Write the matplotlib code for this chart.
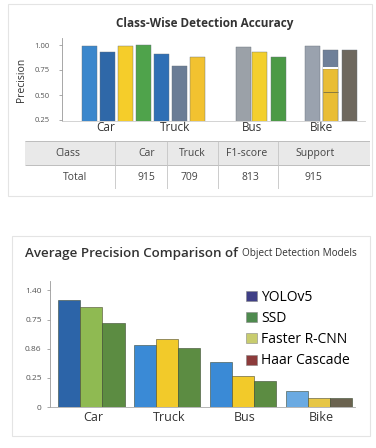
import numpy as np
import matplotlib
matplotlib.use("Agg")
import matplotlib.pyplot as plt
from matplotlib.patches import Rectangle, Patch

plt.rcParams['font.family'] = ['Open Sans', 'DejaVu Sans']

# ---- top chart data (class-wise precision) ----
top_groups = ['Car', 'Truck', 'Bus', 'Bike']
car_prec = [0.99, 0.93, 0.99, 1.00]
truck_prec = [0.91, 0.79, 0.88]
bus_prec = [0.98, 0.93, 0.88]
bike_prec = [0.99, 0.95, 0.95]
bike_inner = 0.76      # yellow part inside the middle bike bar
bike_inner_line = 0.53
top_yticks = [0.25, 0.50, 0.75, 1.00]
top_yticklabels = ['0.25', '0.50', '0.75', '1.00']

# ---- table ----
table_header = ['Class', 'Car', 'Truck', 'F1-score', 'Support']
table_row = ['Total', '915', '709', '813', '915']

# ---- bottom chart data (average precision) ----
models = ['YOLOv5', 'SSD', 'Faster R-CNN', 'Haar Cascade']
classes = ['Car', 'Truck', 'Bus', 'Bike']
ap_first = [0.915, 0.53, 0.39, 0.135]
ap_second = [0.855, 0.58, 0.265, 0.08]
ap_third = [0.72, 0.505, 0.22, 0.08]
bottom_yticks = [0, 0.25, 0.5, 0.75, 1.0]
bottom_yticklabels = ['0', '0.25', '0.86', '0.75', '1.40']

fig = plt.figure(figsize=(3.76, 4.48), dpi=100)
fig.patch.set_facecolor('white')

# light panel frames
fig.patches.append(Rectangle((8 / 376, 1 - 196 / 448), 364 / 376, 192 / 448,
                             transform=fig.transFigure, fill=False,
                             edgecolor='#e4e4e4', lw=0.8))
fig.patches.append(Rectangle((12 / 376, 1 - 436 / 448), 358 / 376, 200 / 448,
                             transform=fig.transFigure, fill=False,
                             edgecolor='#e4e4e4', lw=0.8))

# ================= top chart =================
ax1 = fig.add_axes([62 / 376, 1 - 121 / 448, 303 / 376, 83 / 448])
slots = {
    'Car': [0, 1, 2, 3],
    'Truck': [4, 5, 6],
    'Bus': [8.55, 9.45, 10.5],
    'Bike': [12.4, 13.4, 14.45],
}
top_vals = {'Car': car_prec, 'Truck': truck_prec, 'Bus': bus_prec, 'Bike': bike_prec}
top_cols = {
    'Car': ['#3b87cc', '#2f68a8', '#f5cd2a', '#4fa34b'],
    'Truck': ['#2f6fb5', '#6b7d96', '#f2c230'],
    'Bus': ['#9ba1a8', '#f3cf2c', '#4b9a46'],
    'Bike': ['#9aa2ae', '#6f8099', '#6e685e'],
}
w1 = 0.85
for g in top_groups:
    ax1.bar(slots[g], top_vals[g], width=w1, color=top_cols[g],
            edgecolor='#66707a', linewidth=0.3)
# yellow inner part of the middle bike bar
bx = slots['Bike'][1]
ax1.bar(bx, bike_inner, width=w1, color='#e9bd35', edgecolor='#66707a', linewidth=0.3)
ax1.bar(bx, 0.018, bottom=bike_inner, width=w1, color='white', linewidth=0)
ax1.hlines(bike_inner_line, bx - w1 / 2, bx + w1 / 2, color='#8a7a40', lw=0.7)

ax1.set_xlim(-1.53, 15.3)
ax1.set_ylim(0.24, 1.07)
ax1.set_yticks(top_yticks)
ax1.set_yticklabels(top_yticklabels, fontsize=5.5, color='#555555')
ax1.set_xticks([0.9, 4.75, 9.0, 12.9])
ax1.set_xticklabels(top_groups, fontsize=8.5, color='#333333')
ax1.tick_params(axis='x', length=0, pad=0)
ax1.tick_params(axis='y', length=2, width=0.5, color='#888888', pad=7)
for s in ['top', 'right']:
    ax1.spines[s].set_visible(False)
ax1.spines['left'].set_color('#999999')
ax1.spines['left'].set_linewidth(0.6)
ax1.spines['bottom'].set_color('#cccccc')
ax1.spines['bottom'].set_linewidth(0.6)
ax1.set_ylabel('Precision', fontsize=7.5, color='#333333', labelpad=5)
fig.text(205 / 376, 1 - 24 / 448, 'Class-Wise Detection Accuracy', ha='center',
         va='center', fontsize=8.5, fontweight='bold', color='#333333')

# ================= table =================
axt = fig.add_axes([25 / 376, 1 - 189 / 448, 345 / 376, 48 / 448])
axt.set_xlim(0, 345)
axt.set_ylim(0, 48)
axt.axis('off')
axt.add_patch(Rectangle((0, 24), 345, 24, color='#e9e9e9', lw=0))
axt.hlines([48, 24], 0, 345, color='#bdbdbd', lw=0.7)
axt.hlines([0], 0, 345, color='#dddddd', lw=0.6)
axt.vlines([90, 142, 193, 253], 0, 48, color='#c4c4c4', lw=0.6)
head_x = [43, 122, 167, 222, 290]
row_x = [50, 121, 164, 225, 288]
for hx, rx, h, v in zip(head_x, row_x, table_header, table_row):
    axt.text(hx, 36, h, ha='center', va='center', fontsize=7.5, color='#444444')
    axt.text(rx, 12, v, ha='center', va='center', fontsize=7.5, color='#444444')

# ================= bottom chart =================
ax2 = fig.add_axes([50 / 376, 1 - 407 / 448, 305 / 376, 126 / 448])
x = np.arange(len(classes))
bw = 0.29
first_cols = ['#2c64a8', '#3a8ad6', '#3a8ad6', '#6aaae2']
second_cols = ['#8fba52', '#f2ca2a', '#f2ca2a', '#e6c646']
third_cols = ['#5c8c42', '#5c8c42', '#5c8c42', '#6b6350']
ax2.bar(x - bw, ap_first, width=bw, color=first_cols, edgecolor='#3a4a3a', linewidth=0.4)
ax2.bar(x, ap_second, width=bw, color=second_cols, edgecolor='#4a4a30', linewidth=0.4)
ax2.bar(x + bw, ap_third, width=bw, color=third_cols, edgecolor='#3a4a30', linewidth=0.4)

ax2.set_xlim(-0.546, 3.47)
ax2.set_ylim(0, 1.08)
ax2.set_yticks(bottom_yticks)
ax2.set_yticklabels(bottom_yticklabels, fontsize=6, color='#555555')
ax2.set_xticks(x + 0.02)
ax2.set_xticklabels(classes, fontsize=9, color='#333333')
ax2.tick_params(axis='x', length=0, pad=3)
ax2.tick_params(axis='y', length=2, width=0.5, color='#888888', pad=4)
for s in ['top', 'right']:
    ax2.spines[s].set_visible(False)
ax2.spines['left'].set_color('#999999')
ax2.spines['left'].set_linewidth(0.6)
ax2.spines['bottom'].set_color('#aaaaaa')
ax2.spines['bottom'].set_linewidth(0.6)

leg_cols = ['#3f3f86', '#4e8a4e', '#c8cc6e', '#8c3b3b']
handles = [Patch(facecolor=c, edgecolor='#888888', linewidth=0.4) for c in leg_cols]
ax2.legend(handles, models, loc='upper left', bbox_to_anchor=(0.625, 0.975),
           frameon=False, fontsize=10, handlelength=0.75, handleheight=0.75,
           handletextpad=0.3, labelspacing=0.45, borderaxespad=0)

t = fig.text(25 / 376, 1 - 253 / 448, 'Average Precision Comparison of ',
             ha='left', va='center', fontsize=9.6, fontweight='semibold', color='#333333')
fig.canvas.draw()
bb = t.get_window_extent()
fig.text(bb.x1 / fig.bbox.width, 1 - 253 / 448, 'Object Detection Models',
         ha='left', va='center', fontsize=7.2, color='#333333')

fig.savefig('out.png', dpi=100)
